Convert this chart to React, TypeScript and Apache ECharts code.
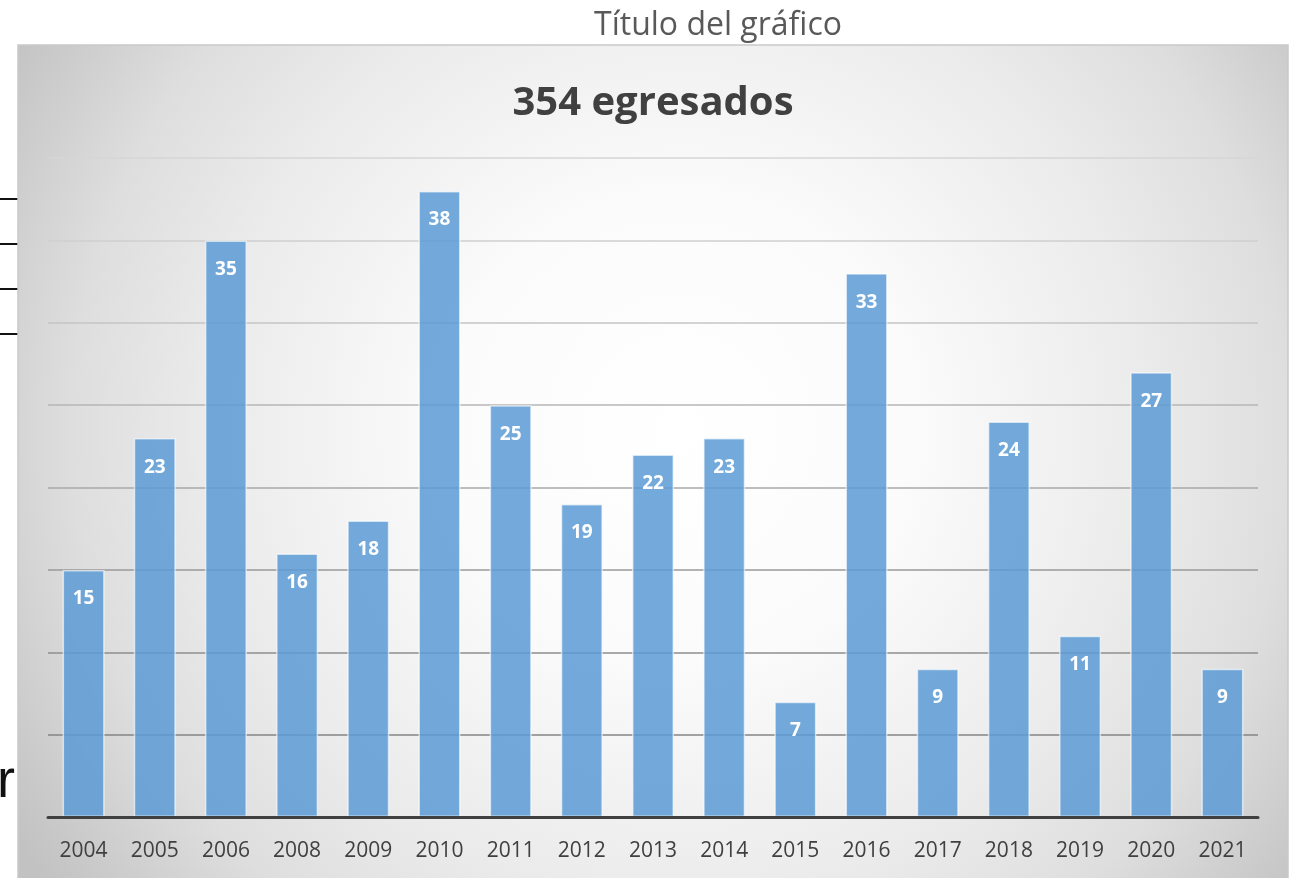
import React, { useEffect, useRef } from "react";
import * as echarts from "echarts";

const years = ["2004", "2005", "2006", "2008", "2009", "2010", "2011", "2012", "2013", "2014", "2015", "2016", "2017", "2018", "2019", "2020", "2021"];
const egresados = [15, 23, 35, 16, 18, 38, 25, 19, 22, 23, 7, 33, 9, 24, 11, 27, 9];
const yMax = 40;
const yStep = 5;
const outerTitle = "Título del gráfico";
const mainTitle = "354 egresados";
const gridColors = ["#7f7f7f", "#858585", "#8e8e8e", "#9a9a9a", "#a8a8a8", "#b6b6b6", "#c4c4c4", "#cfcfcf", "#d6d6d6"];
const sideLinesY = [199, 244, 289, 334];

export default function App() {
  const ref = useRef<HTMLDivElement>(null);
  useEffect(() => {
    if (!ref.current) return;
    const chart = echarts.init(ref.current, null, { renderer: "svg" });
    const font = "'Open Sans', 'Noto Sans', sans-serif";
    const graphics: any[] = [
      ...sideLinesY.map((y) => ({
        type: "line",
        z: -200,
        shape: { x1: 0, y1: y, x2: 18, y2: y },
        style: { stroke: "#111", lineWidth: 2 },
      })),
      {
        type: "text",
        z: -200,
        x: -3,
        y: 805,
        style: { text: "r", fill: "#111", font: "54px 'Liberation Sans', Arial, sans-serif", textVerticalAlign: "bottom" },
      },
      {
        type: "rect",
        z: -100,
        shape: { x: 18, y: 45, width: 1270, height: 845 },
        style: {
          fill: new echarts.graphic.RadialGradient(680, 430, 780, [
            { offset: 0, color: "#ffffff" },
            { offset: 0.3, color: "#fbfbfb" },
            { offset: 0.6, color: "#ebebeb" },
            { offset: 0.78, color: "#dedede" },
            { offset: 0.95, color: "#c8c8c8" },
            { offset: 1, color: "#c2c2c2" },
          ], true),
          stroke: "#c9c9c9",
          lineWidth: 1.5,
        },
      },
      {
        type: "text",
        x: 718,
        y: 22,
        style: { text: outerTitle, fill: "#595959", font: `32px ${font}`, textAlign: "center", textVerticalAlign: "middle" },
      },
      {
        type: "text",
        x: 653,
        y: 99,
        style: { text: mainTitle, fill: "#404040", font: `bold 40px ${font}`, textAlign: "center", textVerticalAlign: "middle" },
      },
    ];
    chart.setOption({
      animation: false,
      graphic: graphics,
      grid: { left: 48, right: 31, top: 158, bottom: 61 },
      xAxis: {
        type: "category",
        data: years,
        axisLine: { show: true, lineStyle: { color: "#404040", width: 3 } },
        axisTick: { show: false },
        axisLabel: { color: "#404040", fontSize: 21, fontFamily: font, margin: 21 },
        z: 5,
      },
      yAxis: {
        type: "value",
        min: 0,
        max: yMax,
        interval: yStep,
        axisLabel: { show: false },
        axisLine: { show: false },
        axisTick: { show: false },
        splitLine: { show: true, lineStyle: { color: gridColors, width: 1.5 } },
      },
      series: [
        {
          type: "bar",
          data: egresados,
          barWidth: 42,
          itemStyle: {
            color: "rgba(91,155,213,0.85)",
            borderColor: "rgba(255,255,255,0.6)",
            borderWidth: 1.5,
          },
          label: {
            show: true,
            position: "insideTop",
            distance: 18,
            color: "#ffffff",
            fontWeight: "bold",
            fontSize: 19,
            fontFamily: font,
          },
        },
      ],
    });
    return () => chart.dispose();
  }, []);
  return <div ref={ref} style={{ position: "fixed", left: 0, top: 0, width: 1289, height: 878 }} />;
}
